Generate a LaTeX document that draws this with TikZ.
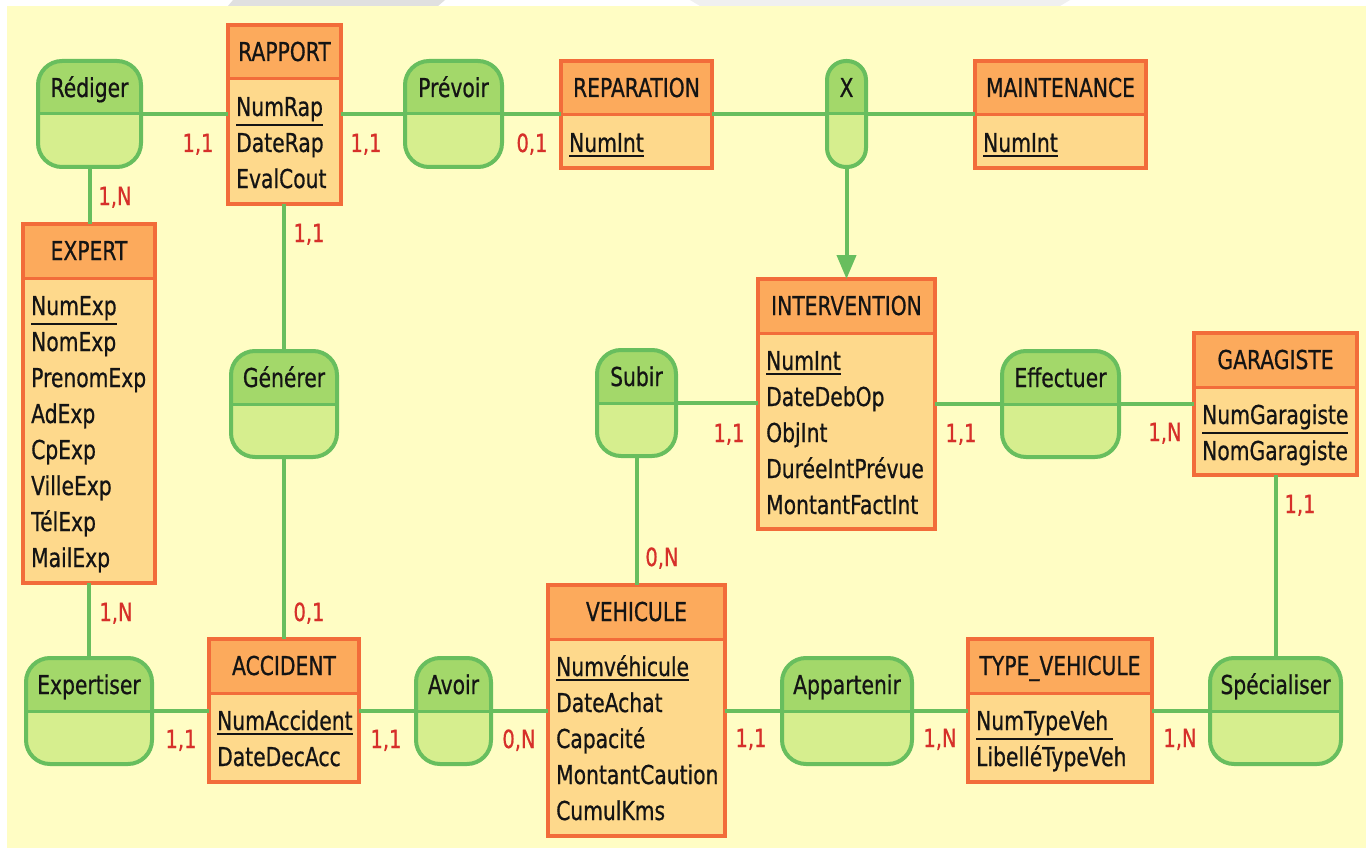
\documentclass[tikz,border=0pt]{standalone}
\usepackage{fontspec}
\setmainfont{DejaVu Sans}[FakeStretch=0.78, FakeBold=0.7]
\usetikzlibrary{arrows.meta}

% palette
\definecolor{fond}{RGB}{255,253,196}
\definecolor{teteent}{RGB}{252,170,92}
\definecolor{corpsent}{RGB}{254,217,140}
\definecolor{bordent}{RGB}{242,108,58}
\definecolor{hautass}{RGB}{163,216,106}
\definecolor{basass}{RGB}{214,238,142}
\definecolor{bordass}{RGB}{104,190,94}
\definecolor{rouge}{RGB}{214,48,42}
\definecolor{texte}{RGB}{20,20,20}

% identifier underline: a bolder rule set a little below the baseline
\newcommand{\souligne}[1]{\vtop{\hbox{#1}\kern3pt\hrule height 2pt}}

\tikzset{
  entite/.style={rectangle, anchor=north west, draw=bordent, line width=4pt,
    fill=corpsent, inner sep=0pt, outer sep=0pt,
    path picture={
      \fill[teteent] (path picture bounding box.north west)
        rectangle ([yshift=-54pt]path picture bounding box.north east);
      \draw[bordent, line width=3pt] ([yshift=-54pt]path picture bounding box.north west)
        -- ([yshift=-54pt]path picture bounding box.north east);}},
  assoc/.style={rectangle, anchor=north west, rounded corners=24pt,
    minimum height=106pt, draw=bordass, line width=4pt, fill=basass,
    inner sep=0pt, outer sep=0pt,
    path picture={
      \fill[hautass, sharp corners] (path picture bounding box.north west)
        rectangle (path picture bounding box.east);
      \draw[bordass, line width=3pt, sharp corners] (path picture bounding box.west)
        -- (path picture bounding box.east);}},
  titre/.style={anchor=base, inner sep=0pt, text=texte,
    font=\fontsize{26}{31}\selectfont},
  attr/.style={anchor=base west, inner sep=0pt, text=texte,
    font=\fontsize{26}{31}\selectfont},
  card/.style={anchor=base, inner sep=0pt, text=rouge,
    font=\fontsize{25}{30}\selectfont},
  lien/.style={draw=bordass, line width=4pt},
}

% entity: name, left, top, width, height, title, attributes
\newcommand{\entite}[7]{%
  \node[entite, minimum width={(#4-4)*1pt}, minimum height={(#5-4)*1pt}] (#1) at (#2+2,#3+2) {};
  \node[titre] (#1-t) at ([yshift=-36pt]#1.north) {#6};
  \foreach \a [count=\i] in {#7}{%
    \node[attr] (#1-a\i) at ([xshift=8pt,yshift={-(91+36*(\i-1))*1pt}]#1.north west) {\a};
  }%
}
% association: name, left, top, width, title
\newcommand{\assoc}[5]{%
  \node[assoc, minimum width={(#4-4)*1pt}] (#1) at (#2+2,#3+2) {};
  \node[titre] (#1-t) at ([yshift=-36pt]#1.north) {#5};
}

\begin{document}
\begin{tikzpicture}[x=1pt, y=-1pt]
\useasboundingbox (0,0) rectangle (1371,848);
\fill[white] (0,0) rectangle (1371,848);
\fill[black!12] (233,0) -- (445,0) -- (438,6) -- (228,6) -- cycle;
\fill[black!6] (690,0) -- (1070,0) -- (1060,6) -- (700,6) -- cycle;
\fill[fond] (7,6) rectangle (1366,848);

% entities
\entite{rap}{226}{23}{117}{183}{RAPPORT}{\souligne{NumRap},DateRap,EvalCout}
\entite{rep}{559}{59}{155}{111}{REPARATION}{\souligne{NumInt}}
\entite{maint}{973}{59}{175}{111}{MAINTENANCE}{\souligne{NumInt}}
\entite{exp}{21}{222}{136}{363}{EXPERT}{\souligne{NumExp},NomExp,PrenomExp,AdExp,CpExp,VilleExp,TélExp,MailExp}
\entite{int}{756}{277}{181}{254}{INTERVENTION}{\souligne{NumInt},DateDebOp,ObjInt,DuréeIntPrévue,MontantFactInt}
\entite{gar}{1192}{331}{167}{146}{GARAGISTE}{\souligne{NumGaragiste},NomGaragiste}
\entite{acc}{207}{637}{154}{147}{ACCIDENT}{\souligne{NumAccident},DateDecAcc}
\entite{veh}{546}{583}{181}{255}{VEHICULE}{\souligne{Numvéhicule},DateAchat,Capacité,MontantCaution,CumulKms}
\entite{tv}{966}{637}{188}{147}{TYPE\_VEHICULE}{\souligne{NumTypeVeh\kern5pt},LibelléTypeVeh}

% associations
\assoc{redi}{36}{59}{107}{Rédiger}
\assoc{prev}{403}{59}{101}{Prévoir}
\node[assoc, minimum width=39pt, rounded corners=19pt] (xx) at (827,61) {};
\node[titre] (xx-t) at ([yshift=-36pt]xx.north) {X};
\assoc{gen}{229}{349}{110}{Générer}
\assoc{sub}{595}{348}{83}{Subir}
\assoc{eff}{1000}{349}{121}{Effectuer}
\assoc{expz}{24}{656}{130}{Expertiser}
\assoc{avo}{414}{656}{79}{Avoir}
\assoc{app}{780}{656}{134}{Appartenir}
\assoc{spe}{1208}{656}{135}{Spécialiser}

% links
\draw[lien] (redi.east) -- (redi.east -| rap.west);
\draw[lien] (redi.south) -- (redi.south |- exp.north);
\draw[lien] (prev.west -| rap.east) -- (prev.west);
\draw[lien] (prev.east) -- (prev.east -| rep.west);
\draw[lien] (xx.west -| rep.east) -- (xx.west);
\draw[lien] (xx.east) -- (xx.east -| maint.west);
\draw[lien, -{Triangle[width=19pt,length=24pt]}] (xx.south) -- (xx.south |- int.north);
\draw[lien] (gen.north |- rap.south) -- (gen.north);
\draw[lien] (gen.south) -- (gen.south |- acc.north);
\draw[lien] (exp.south) -- (exp.south |- expz.north);
\draw[lien] (expz.east) -- (expz.east -| acc.west);
\draw[lien] (avo.west -| acc.east) -- (avo.west);
\draw[lien] (avo.east) -- (avo.east -| veh.west);
\draw[lien] (sub.east) -- (sub.east -| int.west);
\draw[lien] (sub.south) -- (sub.south |- veh.north);
\draw[lien] (eff.west -| int.east) -- (eff.west);
\draw[lien] (eff.east) -- (eff.east -| gar.west);
\draw[lien] (spe.north |- gar.south) -- (spe.north);
\draw[lien] (app.west -| veh.east) -- (app.west);
\draw[lien] (app.east) -- (app.east -| tv.west);
\draw[lien] (spe.west -| tv.east) -- (spe.west);

% cardinalities
\node[card] (c1) at (198,152) {1,1};
\node[card] (c2) at (115,205) {1,N};
\node[card] (c3) at (366,152) {1,1};
\node[card] (c4) at (532,152) {0,1};
\node[card] (c5) at (309,242) {1,1};
\node[card] (c6) at (309,621) {0,1};
\node[card] (c7) at (116,621) {1,N};
\node[card] (c8) at (181,748) {1,1};
\node[card] (c9) at (386,748) {1,1};
\node[card] (c10) at (519,748) {0,N};
\node[card] (c11) at (729,442) {1,1};
\node[card] (c12) at (662,566) {0,N};
\node[card] (c13) at (961,442) {1,1};
\node[card] (c14) at (1165,441) {1,N};
\node[card] (c15) at (1300,513) {1,1};
\node[card] (c16) at (751,747) {1,1};
\node[card] (c17) at (940,747) {1,N};
\node[card] (c18) at (1180,747) {1,N};
\end{tikzpicture}
\end{document}
